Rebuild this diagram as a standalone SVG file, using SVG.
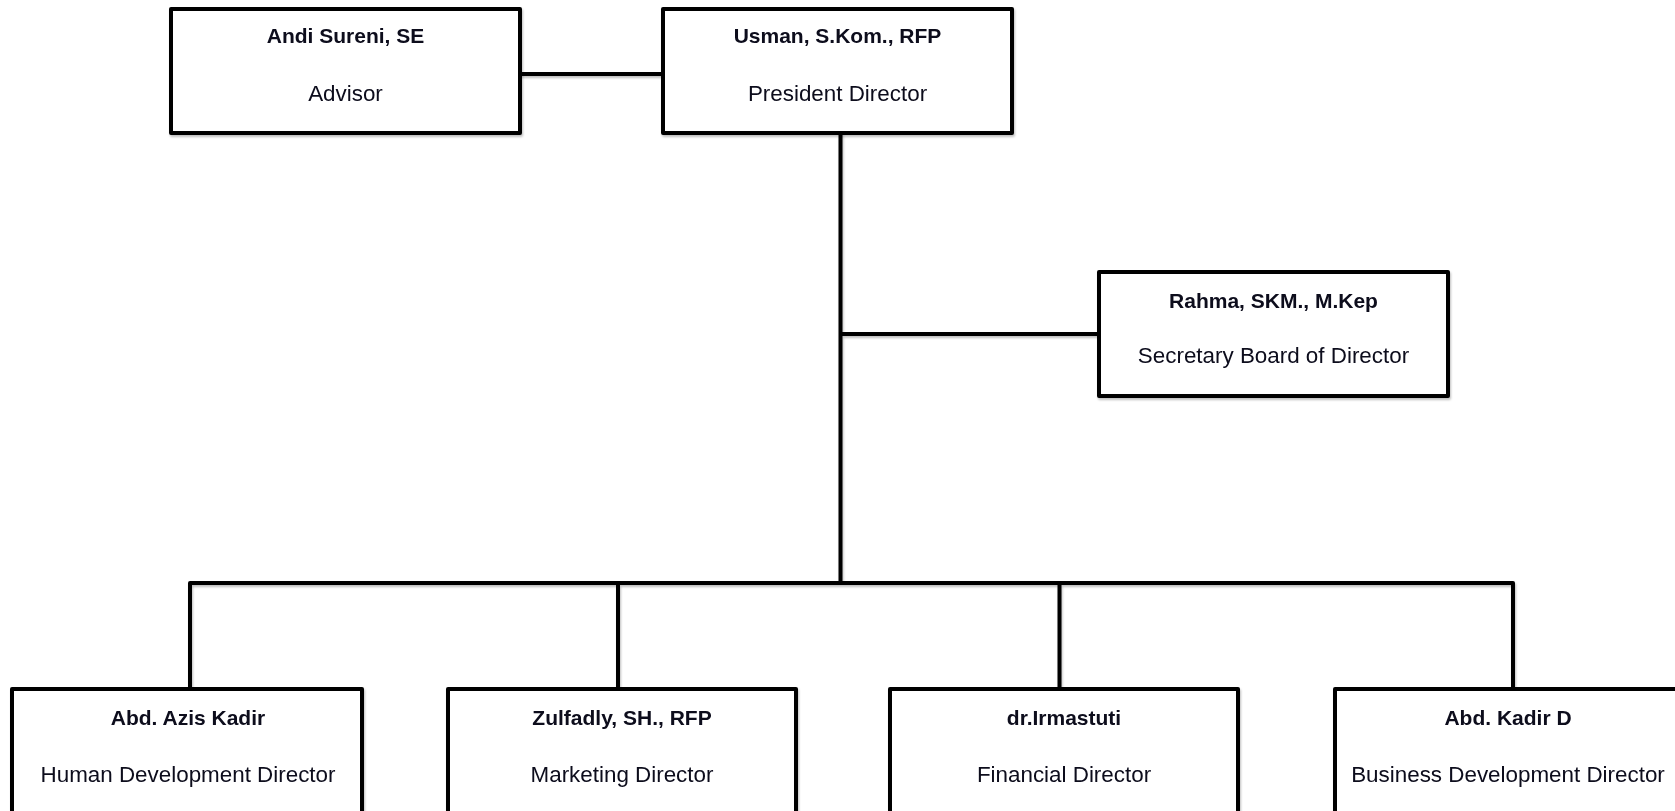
<svg xmlns="http://www.w3.org/2000/svg" width="1675" height="811" viewBox="0 0 1675 811">
<defs>
<style>
.box{fill:#fff;stroke:#000;stroke-width:4;stroke-linejoin:round}
.ln{fill:none;stroke:#000;stroke-width:4;stroke-linejoin:round}
.nm{font-family:"Liberation Sans",Arial,sans-serif;font-size:21px;font-weight:bold;fill:#0a0a1a;text-anchor:middle}
.lb{font-family:"Liberation Sans",Arial,sans-serif;font-size:22.4px;fill:#0a0a1a;text-anchor:middle}
</style>
<filter id="sh" x="-5%" y="-5%" width="110%" height="110%">
<feDropShadow dx="1" dy="2" stdDeviation="1" flood-color="#000" flood-opacity="0.25"/>
</filter>
</defs>
<rect width="1675" height="811" fill="#fff"/>
<g id="connectors" filter="url(#sh)">
<path class="ln" d="M520 74 H663"/>
<path class="ln" d="M840.5 133 V583"/>
<path class="ln" d="M840.5 334 H1099"/>
<path class="ln" d="M190 689 V583 H1513 V689"/>
<path class="ln" d="M618 583 V689"/>
<path class="ln" d="M1059.5 583 V689"/>
</g>
<g id="advisor" filter="url(#sh)">
<rect class="box" x="171" y="9" width="349" height="124"/>
<text class="nm" x="345.5" y="43">Andi Sureni, SE</text>
<text class="lb" x="345.5" y="101">Advisor</text>
</g>
<g id="president" filter="url(#sh)">
<rect class="box" x="663" y="9" width="349" height="124"/>
<text class="nm" x="837.5" y="43">Usman, S.Kom., RFP</text>
<text class="lb" x="837.5" y="101">President Director</text>
</g>
<g id="secretary" filter="url(#sh)">
<rect class="box" x="1099" y="272" width="349" height="124"/>
<text class="nm" x="1273.5" y="308">Rahma, SKM., M.Kep</text>
<text class="lb" x="1273.5" y="363">Secretary Board of Director</text>
</g>
<g id="hr" filter="url(#sh)">
<rect class="box" x="12" y="689" width="350" height="150"/>
<text class="nm" x="188" y="725">Abd. Azis Kadir</text>
<text class="lb" x="188" y="782">Human Development Director</text>
</g>
<g id="marketing" filter="url(#sh)">
<rect class="box" x="448" y="689" width="348" height="150"/>
<text class="nm" x="622" y="725">Zulfadly, SH., RFP</text>
<text class="lb" x="622" y="782">Marketing Director</text>
</g>
<g id="financial" filter="url(#sh)">
<rect class="box" x="890" y="689" width="348" height="150"/>
<text class="nm" x="1064" y="725">dr.Irmastuti</text>
<text class="lb" x="1064" y="782">Financial Director</text>
</g>
<g id="business" filter="url(#sh)">
<rect class="box" x="1335" y="689" width="350" height="150"/>
<text class="nm" x="1508" y="725">Abd. Kadir D</text>
<text class="lb" x="1508" y="782">Business Development Director</text>
</g>
</svg>
